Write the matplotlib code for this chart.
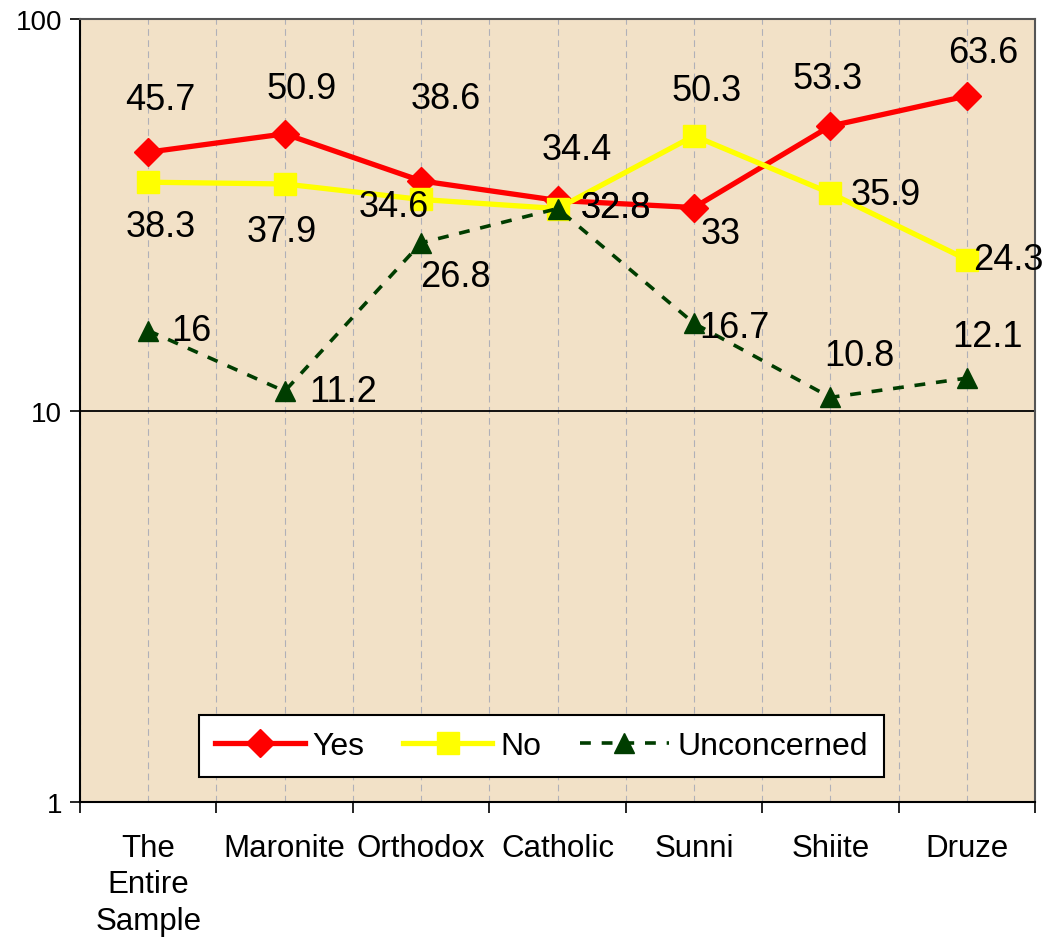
import numpy as np
import matplotlib
matplotlib.use('Agg')
import matplotlib.pyplot as plt

categories = ['The\nEntire\nSample', 'Maronite', 'Orthodox', 'Catholic', 'Sunni', 'Shiite', 'Druze']
yes = [45.7, 50.9, 38.6, 34.4, 33, 53.3, 63.6]
no = [38.3, 37.9, 34.6, 32.8, 50.3, 35.9, 24.3]
unconcerned = [16, 11.2, 26.8, 32.8, 16.7, 10.8, 12.1]

# label offsets in points (dx, dy) per point
yes_off = [(9, 38), (12, 33), (18, 59), (14, 37), (19, -19), (-2, 34), (12, 31)]
no_off = [(9, -32), (-2, -34), (-20, -5), (42, 1), (9, 33), (40, -1), (30, 0)]
unc_off = [(31, 0), (42, 0), (25, -24), (42, 1), (29, -3), (21, 30), (15, 30)]

plt.rcParams['font.family'] = ['Liberation Sans', 'DejaVu Sans']

fig = plt.figure(figsize=(10.56, 9.45), dpi=100)
ax = fig.add_axes([0.0758, 0.1503, 0.9044, 0.8285])
ax.set_facecolor('#F2E1C7')

x = np.arange(len(categories))
ax.set_yscale('log')
ax.set_ylim(1, 100)
ax.set_xlim(-0.5, len(categories) - 0.5)

# vertical dashed grid at centers and boundaries
for xv in np.arange(-0.5, len(categories), 0.5):
    ax.axvline(xv, color='#B0B0B8', lw=0.8, ls=(0, (6, 4)), zorder=1)
ax.axhline(10, color='black', lw=1.3, zorder=1.5)

ax.plot(x, yes, color='#FF0000', lw=3.8, marker='D', ms=14, label='Yes', zorder=3)
ax.plot(x, no, color='#FFFF00', lw=3.8, marker='s', ms=16.5, label='No', zorder=4)
ax.plot(x, unconcerned, color='#003D00', lw=2.6, ls=(0, (3, 3)), marker='^', ms=15,
        label='Unconcerned', zorder=5)

for vals, offs in [(yes, yes_off), (no, no_off), (unconcerned, unc_off)]:
    for xi, v, (dx, dy) in zip(x, vals, offs):
        ax.annotate('{:g}'.format(v), (xi, v), xytext=(dx, dy), textcoords='offset points',
                    ha='center', va='center', fontsize=26, zorder=6)

ax.set_yticks([1, 10, 100])
ax.set_yticklabels(['1', '10', '100'], fontsize=20)
ax.yaxis.set_minor_locator(matplotlib.ticker.NullLocator())
ax.set_xticks(x)
ax.set_xticklabels(categories, fontsize=22.5, linespacing=1.3)
ax.set_xticks(np.arange(-0.5, len(categories), 1), minor=True)
ax.tick_params(axis='x', which='major', length=0, pad=22)
ax.tick_params(axis='x', which='minor', length=8, width=1.2, direction='out')
ax.tick_params(axis='y', length=7, width=1.2, direction='out', pad=6)

for s in ['left', 'bottom']:
    ax.spines[s].set_linewidth(1.5)
    ax.spines[s].set_color('black')
for s in ['top', 'right']:
    ax.spines[s].set_linewidth(1.5)
    ax.spines[s].set_color('#555555')

leg = ax.legend(loc='lower center', bbox_to_anchor=(0.483, 0.032), ncol=3, fontsize=23,
                frameon=True, fancybox=False, edgecolor='black', facecolor='white',
                framealpha=1, handlelength=2.8, columnspacing=1.2, handletextpad=0.25,
                borderpad=0.5, borderaxespad=0)
leg.get_frame().set_linewidth(1.5)

fig.savefig('out.png', dpi=100)
